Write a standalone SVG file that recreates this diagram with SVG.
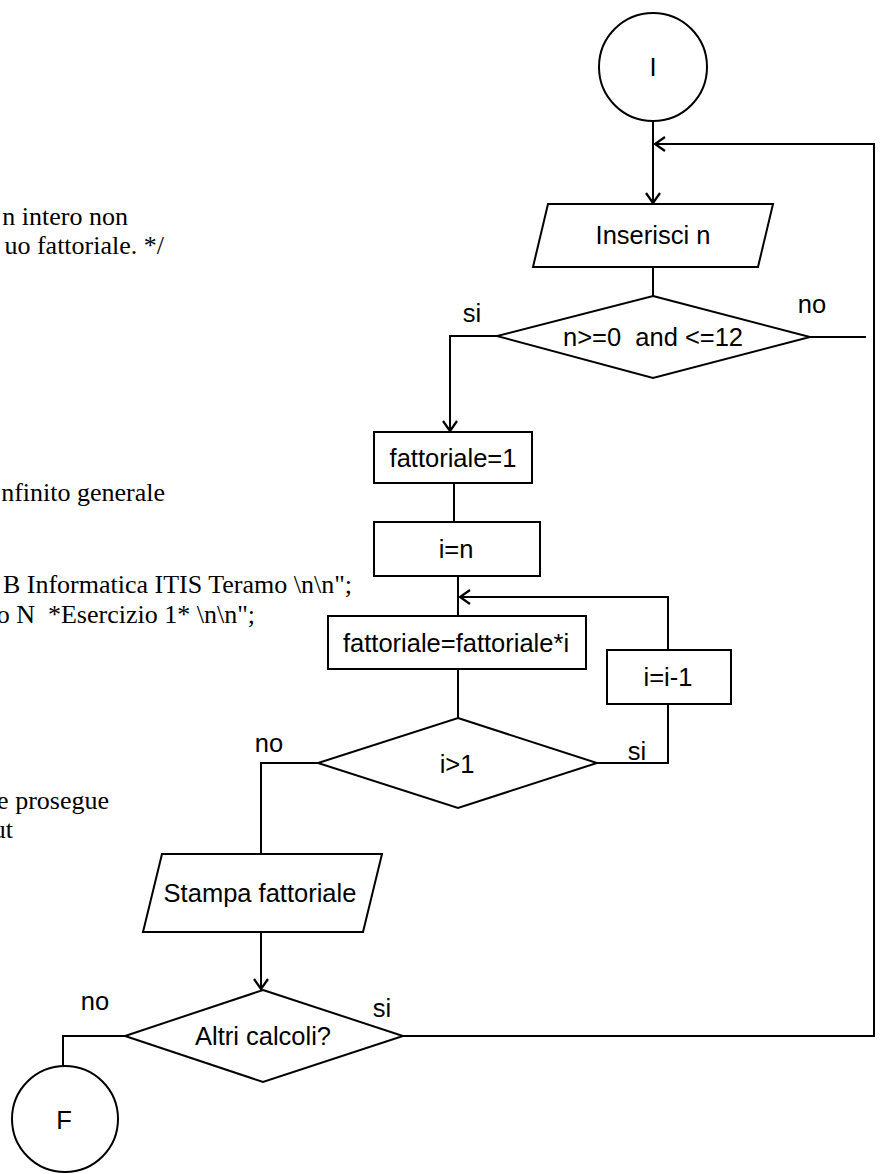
<svg xmlns="http://www.w3.org/2000/svg" width="880" height="1174" viewBox="0 0 880 1174">
<style>
.shape{fill:#fff;stroke:#000;stroke-width:2}
.conn{fill:none;stroke:#000;stroke-width:2}
.lbl{font-family:"Liberation Sans",Arial,sans-serif;font-size:25.5px;fill:#000;text-anchor:middle}
.code{font-family:"Liberation Serif","Times New Roman",serif;font-size:26px;fill:#000;text-anchor:end}
</style>
<defs>
<marker id="arr" viewBox="-1 -1 13 16" refX="10" refY="7" markerWidth="13" markerHeight="16" markerUnits="userSpaceOnUse" orient="auto">
<path d="M0,0 L10,7 L0,14" fill="none" stroke="#000" stroke-width="2.2"/>
</marker>
</defs>
<rect width="880" height="1174" fill="#fff"/>
<g id="code-text">
<text class="code" x="128" y="225">n intero non</text>
<text class="code" x="164" y="254">uo fattoriale. */</text>
<text class="code" x="165" y="501">nfinito generale</text>
<text class="code" x="352" y="593">B Informatica ITIS Teramo \n\n";</text>
<text class="code" x="255" y="623" xml:space="preserve">o N  *Esercizio 1* \n\n";</text>
<text class="code" x="109" y="809">e prosegue</text>
<text class="code" x="13" y="838">ut</text>
</g>
<g id="connectors">
<path class="conn" d="M653,121 V203" marker-end="url(#arr)"/>
<path class="conn" d="M403,1036 H874 V144 H655" marker-end="url(#arr)"/>
<path class="conn" d="M653,267 V296"/>
<path class="conn" d="M810,337 H866"/>
<path class="conn" d="M497,336 H450 V431" marker-end="url(#arr)"/>
<path class="conn" d="M454,483 V522"/>
<path class="conn" d="M458,576 V616"/>
<path class="conn" d="M668,650 V597 H460" marker-end="url(#arr)"/>
<path class="conn" d="M458,669 V718"/>
<path class="conn" d="M597,763 H668 V704"/>
<path class="conn" d="M318,763 H261 V854"/>
<path class="conn" d="M261,932 V989" marker-end="url(#arr)"/>
<path class="conn" d="M125,1036 H63 V1066"/>
</g>
<g id="node-start">
<circle class="shape" cx="653" cy="67" r="54"/>
<text class="lbl" x="653" y="76">I</text>
</g>
<g id="node-input">
<polygon class="shape" points="548,204 773,204 758,267 533,267"/>
<text class="lbl" x="653" y="244">Inserisci n</text>
</g>
<g id="node-check">
<polygon class="shape" points="653,296 810,337 653,378 497,336"/>
<text class="lbl" x="653" y="346" xml:space="preserve">n&gt;=0  and &lt;=12</text>
</g>
<text class="lbl" x="812" y="313">no</text>
<text class="lbl" x="472" y="322">si</text>
<g id="node-fatt1">
<rect class="shape" x="374" y="432" width="158" height="51"/>
<text class="lbl" x="453" y="467">fattoriale=1</text>
</g>
<g id="node-in">
<rect class="shape" x="374" y="522" width="166" height="54"/>
<text class="lbl" x="456" y="558">i=n</text>
</g>
<g id="node-mult">
<rect class="shape" x="328" y="616" width="258" height="53"/>
<text class="lbl" x="456" y="652">fattoriale=fattoriale*i</text>
</g>
<g id="node-dec">
<rect class="shape" x="607" y="650" width="124" height="54"/>
<text class="lbl" x="668" y="686">i=i-1</text>
</g>
<g id="node-cond">
<polygon class="shape" points="458,718 597,763 458,808 318,763"/>
<text class="lbl" x="457" y="773">i&gt;1</text>
</g>
<text class="lbl" x="637" y="760">si</text>
<text class="lbl" x="269" y="752">no</text>
<g id="node-print">
<polygon class="shape" points="162,854 382,854 363,932 143,932"/>
<text class="lbl" x="260" y="902">Stampa fattoriale</text>
</g>
<g id="node-again">
<polygon class="shape" points="263,990 403,1036 263,1082 125,1036"/>
<text class="lbl" x="263" y="1045">Altri calcoli?</text>
</g>
<text class="lbl" x="95" y="1010">no</text>
<text class="lbl" x="382" y="1017">si</text>
<g id="node-end">
<circle class="shape" cx="65" cy="1119" r="53"/>
<text class="lbl" x="64" y="1129">F</text>
</g>
</svg>
